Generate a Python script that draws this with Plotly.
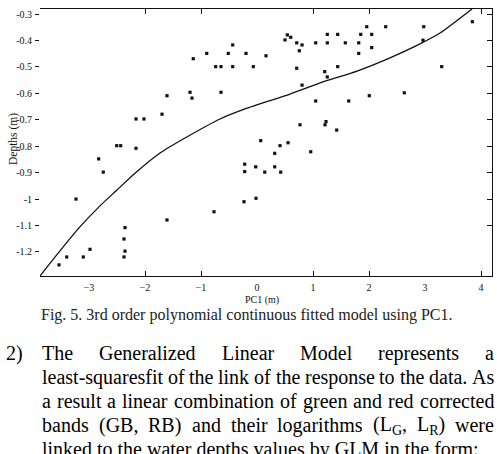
import re
import plotly.graph_objects as go

# ---------------- data ----------------
pc1 = [-3.536, -3.398, -3.102, -2.982, -3.232, -2.827, -2.745, -2.505, -2.434, -2.161,
       -2.375, -2.357, -2.375, -2.357, -2.161, -2.018, -1.696, -1.607, -1.607, -1.196,
       -1.161, -1.138, -0.898, -0.768, -0.738, -0.643, -0.643, -0.513, -0.434, -0.434,
       -0.196, -0.066, 0.161, 0.500, 0.541, 0.602, 0.709, 0.804, 0.755, 0.709,
       0.804, 1.048, 1.255, 1.255, 1.441, 1.577, 1.816, 1.816, 1.852, 1.959,
       2.048, 2.048, 2.298, 2.977, 2.964, 3.845, 3.298, 1.209, 1.255, 1.441,
       1.048, 1.638, 2.005, 2.630, 0.768, 1.214, 1.232, 1.423, 0.066, 0.411,
       0.554, 0.316, 0.959, -0.220, -0.220, -0.232, -0.023, -0.018, 0.316, 0.138,
       0.423]
depth = [-1.249, -1.219, -1.219, -1.190, -1.000, -0.848, -0.898, -0.798, -0.798, -0.808,
         -1.219, -1.197, -1.151, -1.108, -0.697, -0.697, -0.679, -0.609, -1.079, -0.596,
         -0.618, -0.469, -0.449, -1.048, -0.499, -0.499, -0.596, -0.449, -0.417, -0.499,
         -0.449, -0.499, -0.458, -0.398, -0.379, -0.388, -0.409, -0.417, -0.439, -0.505,
         -0.569, -0.409, -0.377, -0.409, -0.377, -0.409, -0.409, -0.449, -0.377, -0.348,
         -0.377, -0.427, -0.348, -0.348, -0.399, -0.329, -0.499, -0.518, -0.538, -0.499,
         -0.629, -0.629, -0.609, -0.598, -0.719, -0.719, -0.707, -0.739, -0.779, -0.798,
         -0.787, -0.827, -0.821, -0.868, -0.896, -1.010, -0.878, -0.997, -0.878, -0.898,
         -0.898]

# fitted model curve
fit_x = [-3.875, -3.518, -3.179, -2.786, -2.500, -2.214, -1.732, -1.286, -0.661, -0.214,
         0.589, 1.179, 1.786, 2.375, 2.911, 3.268, 3.839]
fit_y = [-1.291, -1.196, -1.109, -1.022, -0.966, -0.909, -0.826, -0.769, -0.697, -0.659,
         -0.603, -0.557, -0.516, -0.466, -0.413, -0.372, -0.281]

x_ticks = [-3, -2, -1, 0, 1, 2, 3, 4]
x_marks = [-2, -1, 1, 2, 4]
y_ticks = [-0.3, -0.4, -0.5, -0.6, -0.7, -0.8, -0.9, -1.0, -1.1, -1.2]
y_ticktext = ["-0.3", "-0.4", "-0.5", "-0.6", "-0.7", "-0.8", "-0.9", "-1", "-1.1", "-1.2"]
y_marks = [-0.3, -0.4, -0.5, -0.6, -0.7, -0.8, -0.9, -1.0, -1.1]

x_title = "PC1 (m)"
y_title = "Depths (m)"
caption = "Fig. 5. 3rd order polynomial continuous fitted model using PC1."
item_label = "2)"
para_lines = [
    "The Generalized Linear Model represents a",
    "least-squaresfit of the link of the response to the data. As",
    "a result a linear combination of green and red corrected",
    "bands (GB, RB) and their logarithms (L<sub>G</sub>, L<sub>R</sub>) were",
]
last_line = "linked to the water depths values by GLM in the form:"

# ---------------- layout geometry ----------------
W, H = 497, 454
L, R, T, B = 40, 5, 9, 178
PW, PH = W - L - R, H - T - B
XR = [-3.875, 4.196]
YR = [-1.291, -0.281]


def px(xp):
    return (xp - L) / PW


def py(yp):
    return (H - B - yp) / PH


SERIF = "Liberation Serif, Times New Roman, serif"
INK = "#111111"

# Times-style advance widths (per 1000 em) used only to justify the paragraph lines
ADV = {" ": 250, ".": 250, ",": 250, "(": 333, ")": 333, "-": 333, ":": 278}
ADV.update({c: w for c, w in zip("abcdefghijklmnopqrstuvwxyz",
                                 [444, 500, 444, 500, 444, 333, 500, 500, 278, 278, 500, 278, 778,
                                  500, 500, 500, 500, 333, 389, 278, 500, 500, 722, 500, 500, 444])})
ADV.update({c: w for c, w in zip("ABCDEFGHIJKLMNOPQRSTUVWXYZ",
                                 [722, 667, 667, 722, 611, 556, 722, 722, 333, 389, 722, 611, 889,
                                  722, 722, 556, 722, 667, 556, 611, 722, 722, 944, 722, 722, 611])})


def word_width(word, size):
    total = 0.0
    for p in re.split(r"(<sub>.*?</sub>)", word):
        if p.startswith("<sub>"):
            total += sum(ADV.get(c, 500) for c in p[5:-6]) * 0.7
        else:
            total += sum(ADV.get(c, 500) for c in p)
    return total * size / 1000.0


fig = go.Figure()
fig.add_trace(go.Scatter(x=pc1, y=depth, mode="markers",
                         marker=dict(symbol="square", size=3.2, color=INK),
                         hoverinfo="skip", showlegend=False))
fig.add_trace(go.Scatter(x=fit_x, y=fit_y, mode="lines", xaxis="x2", yaxis="y2",
                         line=dict(color=INK, width=1.3, shape="spline", smoothing=0.6),
                         hoverinfo="skip", showlegend=False))

ann = []


def add_text(text, xp, yp, font, xanchor="left", angle=0):
    ann.append(dict(text=text, x=px(xp), y=py(yp), xref="paper", yref="paper",
                    showarrow=False, xanchor=xanchor, yanchor="middle",
                    textangle=angle, font=font))


add_text(x_title, 262, 300, dict(family=SERIF, size=10, color=INK), "center")
add_text(y_title, 13, 139, dict(family=SERIF, size=11.5, color=INK), "center", -90)
add_text(caption, 246.5, 315, dict(family=SERIF, size=16, color="#222222"), "center")

FS = 20
tf = dict(family=SERIF, size=FS, color="#000000")
LEFT, RIGHT = 40, 492
line_y = [353, 377, 401, 425]
add_text(item_label, 4, line_y[0], tf)
for line, yy in zip(para_lines, line_y):
    words = line.split(" ")
    widths = [word_width(w, FS) for w in words]
    gap = (RIGHT - LEFT - sum(widths)) / (len(words) - 1)
    xx = LEFT
    for w, ww in zip(words, widths):
        add_text(w, xx, yy, tf)
        xx += ww + gap
add_text(last_line, LEFT, 449, tf)

axis_font = dict(family=SERIF, size=10, color=INK)
fig.update_layout(
    width=W, height=H,
    margin=dict(l=L, r=R, t=T, b=B, pad=0),
    paper_bgcolor="white", plot_bgcolor="white",
    showlegend=False,
    xaxis=dict(range=XR, tickvals=x_ticks, ticks="", showgrid=False, zeroline=False,
               showline=True, linecolor=INK, linewidth=1, mirror=True,
               tickfont=axis_font, ticklabelstandoff=2),
    yaxis=dict(range=YR, tickvals=y_ticks, ticktext=y_ticktext, ticks="outside",
               ticklen=4, tickcolor=INK, showgrid=False, zeroline=False, showline=False,
               tickfont=axis_font, ticklabelstandoff=1),
    xaxis2=dict(range=XR, overlaying="x", anchor="y2", side="bottom", tickvals=x_marks,
                ticks="inside", ticklen=5, tickcolor=INK, mirror="ticks",
                showticklabels=False, showgrid=False, zeroline=False, showline=False),
    yaxis2=dict(range=YR, overlaying="y", anchor="x2", side="right", tickvals=y_marks,
                ticks="inside", ticklen=5, tickcolor=INK, showticklabels=False,
                showgrid=False, zeroline=False, showline=True, linecolor=INK, linewidth=1),
    annotations=ann,
)

fig.write_html("out.html")
